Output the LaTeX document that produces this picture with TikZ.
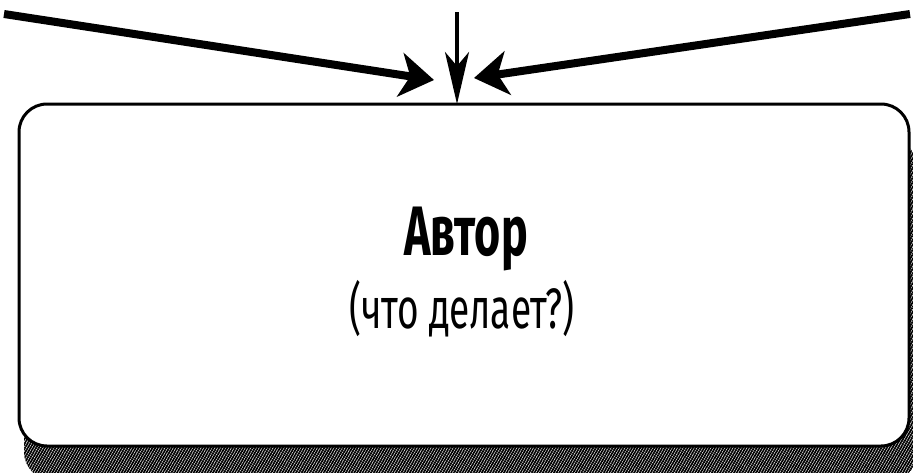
\documentclass[tikz,border=0pt]{standalone}
\usepackage{fontspec}
\setmainfont{Fira Sans}
\usetikzlibrary{arrows.meta,patterns.meta}
\tikzset{
  boxline/.style={line width=3pt, rounded corners=28pt},
  bigarrow/.style={line width=8pt, -{Stealth[length=34pt,width=44pt,inset=10pt]}},
  thinarrow/.style={line width=3.5pt, -{Stealth[length=52pt,width=24pt,inset=14pt]}},
  hatch/.style={pattern={Lines[angle=60,distance=2.4pt,line width=1.8pt]}, pattern color=black}
}
\begin{document}
\begin{tikzpicture}[x=1pt,y=-1pt]
\useasboundingbox (0,0) rectangle (913,472);
% shadow
\fill[hatch, rounded corners=28pt] (24,140) rectangle (918,480);
% box
\draw[boxline, fill=white] (19,104) rectangle (909,446);
\coordinate (tgt) at (457,104);
\node[inner sep=0pt, anchor=base] (title) at (466,255) {\scalebox{0.64}[1]{\fontsize{70}{80}\selectfont\bfseries Автор}};
\node[inner sep=0pt, anchor=base] (sub) at (462,328) {\scalebox{0.65}[1]{\fontsize{57}{64}\selectfont (что делает?)}};
% arrows
\coordinate (sL) at (4,14);
\coordinate (sM) at (457,12);
\coordinate (sR) at (910,14);
\coordinate (tL) at (434,80);
\coordinate (tR) at (474,78);
\draw[bigarrow] (sL) -- (tL);
\draw[bigarrow] (sR) -- (tR);
\draw[thinarrow] (sM) -- (tgt);
\end{tikzpicture}
\end{document}
